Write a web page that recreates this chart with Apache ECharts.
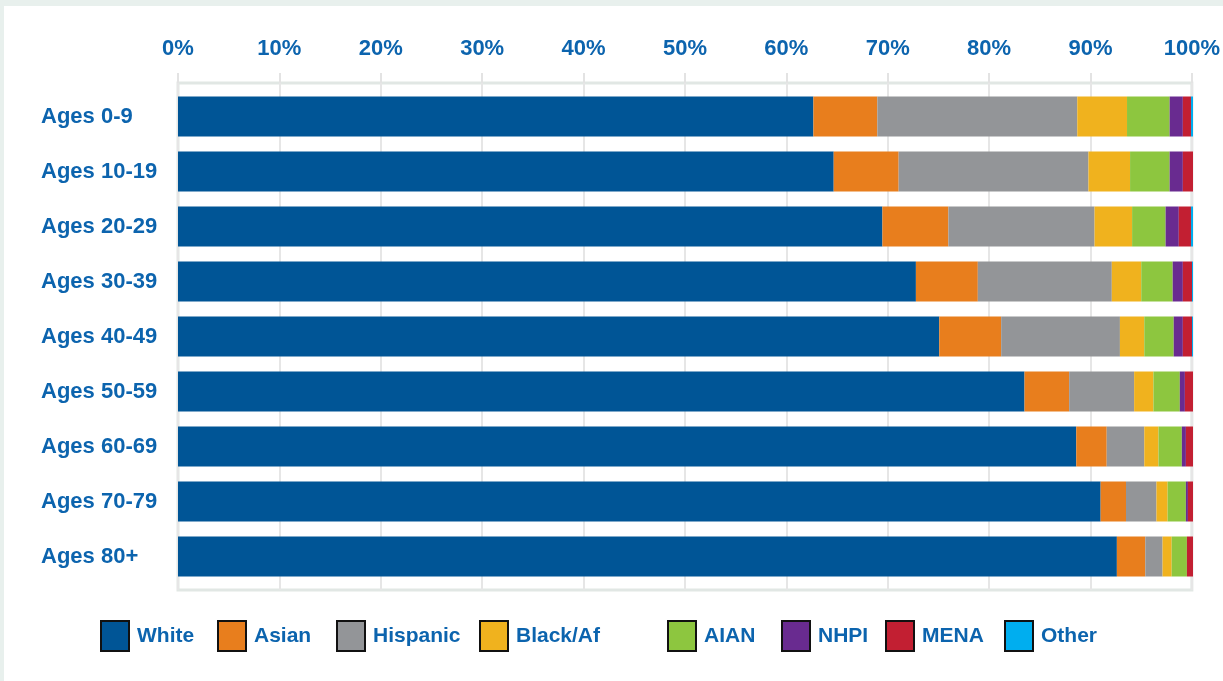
<!DOCTYPE html>
<html>
<head>
<meta charset="utf-8">
<script src="https://cdn.jsdelivr.net/npm/echarts@6/dist/echarts.min.js"></script>
<style>
  html, body { margin: 0; padding: 0; background: #ffffff; }
  #chart { width: 1223px; height: 681px; }
</style>
</head>
<body>
<div id="chart"></div>
<script>
// Age groups, top to bottom
const categories = ['Ages 0-9', 'Ages 10-19', 'Ages 20-29', 'Ages 30-39', 'Ages 40-49',
                    'Ages 50-59', 'Ages 60-69', 'Ages 70-79', 'Ages 80+'];

// Share of each group (%) per age band
const white    = [62.6, 64.6, 69.4, 72.7, 75.0, 83.4, 88.5, 90.9, 92.5];
const asian    = [6.3, 6.4, 6.5, 6.1, 6.1, 4.4, 3.0, 2.5, 2.8];
const hispanic = [19.7, 18.7, 14.4, 13.2, 11.7, 6.4, 3.7, 3.0, 1.7];
const blackAf  = [4.9, 4.1, 3.7, 2.9, 2.4, 1.9, 1.4, 1.1, 0.9];
const aian     = [4.2, 3.9, 3.3, 3.1, 2.9, 2.6, 2.3, 1.8, 1.5];
const nhpi     = [1.3, 1.3, 1.3, 1.0, 0.9, 0.5, 0.4, 0.2, 0.0];
const mena     = [0.8, 1.0, 1.2, 0.9, 0.9, 0.8, 0.7, 0.5, 0.6];
const other    = [0.2, 0.2, 0.2, 0.1, 0.1, 0.1, 0.0, 0.0, 0.0];

const seriesNames = ['White', 'Asian', 'Hispanic', 'Black/Af', 'AIAN', 'NHPI', 'MENA', 'Other'];
const seriesData  = [white, asian, hispanic, blackAf, aian, nhpi, mena, other];
const seriesColors = ['#005596', '#e87e1d', '#939598', '#f0b21e', '#8dc63f', '#692b90', '#c21f32', '#00aeef'];

// Tick values along the percentage axis
const tickMin = 0, tickMax = 100, tickStep = 10;

const BLUE = '#0c64ae';
const FONT = '"Liberation Sans", Arial, sans-serif';
const legendLefts = [100, 217, 336, 479, 667, 781, 885, 1004];

const chart = echarts.init(document.getElementById('chart'), null, { renderer: 'canvas' });

const option = {
  backgroundColor: '#ffffff',
  animation: false,
  color: seriesColors,
  graphic: [
    { type: 'rect', shape: { x: 0, y: 0, width: 1223, height: 6 }, style: { fill: '#e8f0ed' }, silent: true },
    { type: 'rect', shape: { x: 0, y: 0, width: 4, height: 681 }, style: { fill: '#e8f0ed' }, silent: true }
  ],
  grid: [
    // frame, gridlines and percentage labels
    { left: 178, width: 1015, top: 83, height: 507, show: true, borderColor: '#e1e7e4', borderWidth: 3, backgroundColor: 'transparent' },
    // bars
    { left: 178, width: 1015, top: 89, height: 495 }
  ],
  xAxis: [
    {
      gridIndex: 0, type: 'value', position: 'top',
      min: tickMin, max: tickMax, interval: tickStep,
      axisLine: { show: false },
      axisTick: { show: true, length: 10, lineStyle: { color: '#e3e3e3', width: 2 } },
      splitLine: { show: true, lineStyle: { color: '#e6e6e6', width: 2 } },
      axisLabel: { formatter: '{value}%', color: BLUE, fontSize: 22, fontWeight: 'bold', fontFamily: FONT, margin: 23 }
    },
    {
      gridIndex: 1, type: 'value', min: tickMin, max: tickMax, show: false
    }
  ],
  yAxis: [
    { gridIndex: 0, type: 'category', data: categories, show: false },
    {
      gridIndex: 1, type: 'category', data: categories, inverse: true,
      axisLine: { show: false }, axisTick: { show: false }, splitLine: { show: false },
      axisLabel: {
        align: 'left', margin: 137, color: BLUE, fontSize: 22, fontWeight: 'bold', fontFamily: FONT,
        padding: [0, 0, 8, 0]
      }
    }
  ],
  legend: seriesNames.map((name, i) => ({
    data: [name],
    left: legendLefts[i],
    top: 620,
    padding: 0,
    icon: 'rect',
    itemWidth: 28,
    itemHeight: 30,
    selectedMode: false,
    itemStyle: { borderColor: '#111111', borderWidth: 2 },
    textStyle: { color: BLUE, fontSize: 21, fontWeight: 'bold', fontFamily: FONT, padding: [0, 0, 0, 3] }
  })),
  series: seriesNames.map((name, i) => ({
    name: name,
    type: 'bar',
    stack: 'total',
    xAxisIndex: 1,
    yAxisIndex: 1,
    barWidth: 40,
    data: seriesData[i],
    itemStyle: { color: seriesColors[i] },
    emphasis: { disabled: true }
  }))
};

chart.setOption(option);
</script>
</body>
</html>
